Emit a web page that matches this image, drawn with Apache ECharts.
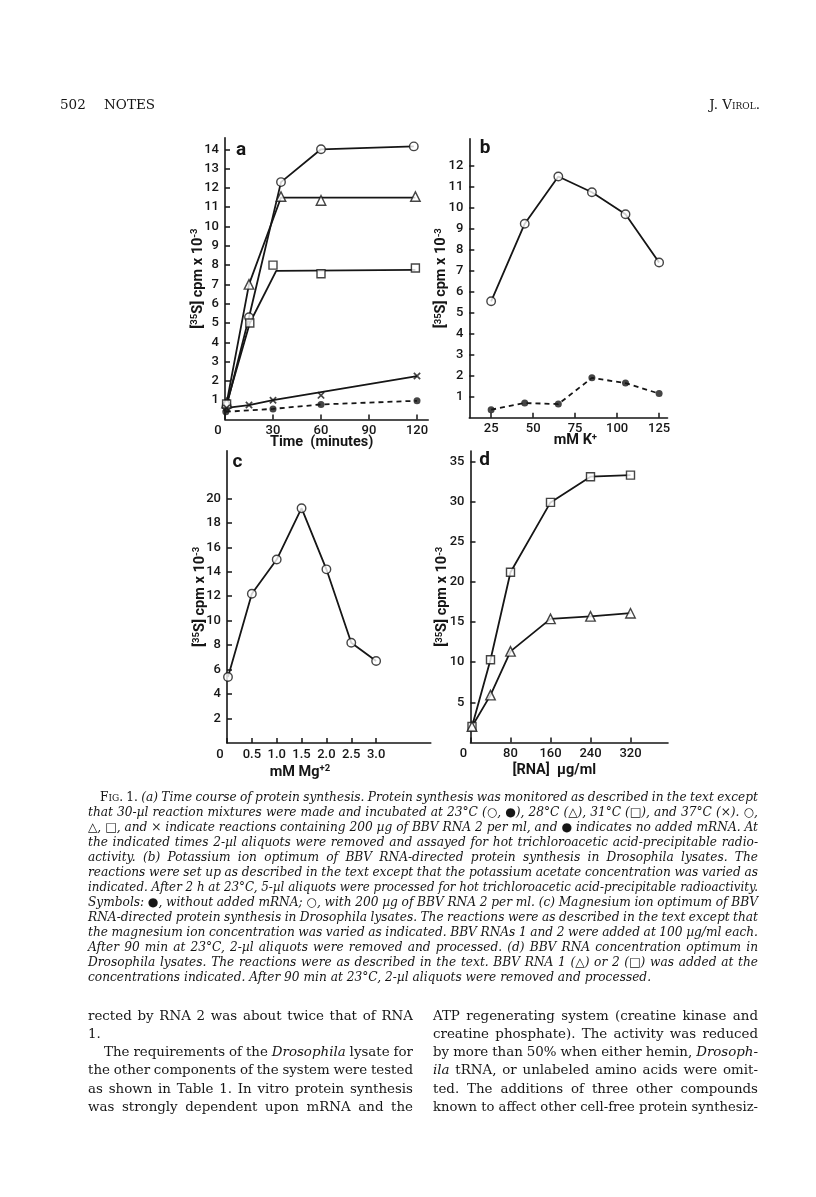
<!DOCTYPE html>
<html><head><meta charset="utf-8">
<script src="https://cdn.jsdelivr.net/npm/echarts@6/dist/echarts.min.js"></script>
<style>
html,body{margin:0;padding:0;background:#fff;}
#page{position:relative;width:816px;height:1197px;overflow:hidden;background:#fff;}
#chart{position:absolute;left:0;top:0;width:816px;height:1197px;}
.ln{position:absolute;display:inline-block;white-space:nowrap;font-family:"DejaVu Serif","Liberation Serif",serif;color:#161616;transform-origin:0 50%;}
.cap{font-size:12.2px;font-style:italic;line-height:15px;}
.body{font-size:13.4px;line-height:18px;}
.hdr{font-size:13.5px;line-height:18px;}
.sc{font-variant:small-caps;}
.up{font-style:normal;}
</style></head>
<body><div id="page"><div id="chart"></div><div id="txt"></div></div>
<script>
// ---------------- DATA ----------------
// Panel a: time course (minutes vs cpm x 10^-3)
const timeTicks = [0, 30, 60, 90, 120];
const aCpmTicks = [1,2,3,4,5,6,7,8,9,10,11,12,13,14];
const a23Time = [1, 15, 35, 60, 118];          // open circles, 23 C
const a23Cpm  = [0.7, 5.3, 12.3, 14.0, 14.15];
const a28Time = [1, 15, 35, 60, 119];          // triangles, 28 C
const a28Cpm  = [0.85, 7.0, 11.55, 11.35, 11.55];
const a28LineTime = [1, 15, 35, 119];
const a28LineCpm  = [0.85, 7.0, 11.5, 11.5];
const a31Time = [1, 15.5, 30, 60, 119];        // squares, 31 C
const a31Cpm  = [0.8, 5.0, 8.0, 7.55, 7.85];
const a31LineTime = [1, 15.5, 32, 119];
const a31LineCpm  = [0.8, 5.0, 7.7, 7.75];
const a37Time = [1, 15, 30, 60, 120];          // crosses, 37 C
const a37Cpm  = [0.6, 0.75, 1.0, 1.25, 2.25];
const a37LineTime = [1, 15, 30, 120];
const a37LineCpm  = [0.6, 0.75, 1.0, 2.25];
const a23NoRnaTime = [0.5, 30, 60, 120];       // filled circles, no mRNA
const a23NoRnaCpm  = [0.4, 0.55, 0.78, 0.97];

// Panel b: potassium optimum (mM K+)
const kTicks = [25, 50, 75, 100, 125];
const bCpmTicks = [1,2,3,4,5,6,7,8,9,10,11,12];
const kConc = [25, 45, 65, 85, 105, 125];
const bWithRna = [5.55, 9.25, 11.5, 10.75, 9.7, 7.4];
const bNoRna   = [0.38, 0.7, 0.65, 1.9, 1.65, 1.15];

// Panel c: magnesium optimum (mM Mg+2)
const mgTicks = [0, 0.5, 1.0, 1.5, 2.0, 2.5, 3.0];
const cCpmTicks = [2,4,6,8,10,12,14,16,18,20];
const mgConc = [0.02, 0.5, 1.0, 1.5, 2.0, 2.5, 3.0];
const cCpm   = [5.4, 12.2, 15.0, 19.2, 14.2, 8.2, 6.7];

// Panel d: RNA concentration optimum (ug/ml)
const rnaTicks = [0, 80, 160, 240, 320];
const dCpmTicks = [5,10,15,20,25,30,35];
const rnaConc = [3, 40, 80, 160, 240, 320];
const dRna2 = [2.0, 10.3, 21.2, 29.9, 33.1, 33.3];   // squares
const dRna1 = [2.0, 5.9, 11.35, 15.4, 15.7, 16.1];   // triangles

const panelLetters = ['a', 'b', 'c', 'd'];
const yAxisTitle = '[{sup|35}S] cpm x 10{sup|-3}';
const xAxisTitles = ['Time  (minutes)', 'mM K{sup|+}', 'mM Mg{sup|+2}', '[RNA]  \u00b5g/ml'];

// ---------------- CHART ----------------
const C = '#161616';
const FONT = 'Roboto, "DejaVu Sans", sans-serif';
const zip = (xs, ys) => xs.map((x, i) => [x, ys[i]]);
const supRich = {sup:{fontSize:9.5, fontWeight:'bold', fontFamily:FONT, color:C, verticalAlign:'top', lineHeight:9}};
const lblStyle = {color:C, fontFamily:FONT, fontSize:13, fontWeight:500};

function mkX(gi, min, max, ticks, fmt, name, pad, gap) {
  return {type:'value', gridIndex:gi, min:min, max:max,
    axisLine:{show:true, onZero:false, lineStyle:{color:C, width:1.6}},
    axisTick:{show:true, inside:true, length:5, customValues:ticks, lineStyle:{color:C, width:1.5}},
    axisLabel:Object.assign({show:true, customValues:ticks, formatter:fmt, margin:5,
      rich:{z:Object.assign({padding:[0,14,0,0]}, lblStyle)}}, lblStyle),
    splitLine:{show:false},
    name:name, nameLocation:'middle', nameGap:gap, nameMoveOverlap:false,
    nameTextStyle:{color:C, fontFamily:FONT, fontSize:14.5, fontWeight:'bold', padding:pad, lineHeight:16, rich:supRich}
  };
}
function mkY(gi, min, max, ticks, gap) {
  return {type:'value', gridIndex:gi, min:min, max:max,
    axisLine:{show:true, onZero:false, lineStyle:{color:C, width:1.6}},
    axisTick:{show:true, inside:true, length:5, customValues:ticks, lineStyle:{color:C, width:1.5}},
    axisLabel:Object.assign({show:true, customValues:ticks, margin:6}, lblStyle),
    splitLine:{show:false},
    name:yAxisTitle, nameLocation:'middle', nameGap:gap, nameRotate:90, nameMoveOverlap:false,
    nameTextStyle:{color:C, fontFamily:FONT, fontSize:14.5, fontWeight:'bold', lineHeight:16, rich:supRich}
  };
}
const zeroFmt = v => v === 0 ? '{z|0}' : String(v);
const mgFmt = v => v === 0 ? '{z|0}' : v.toFixed(1);

const crossPath = 'path://M0,1.6L1.6,0L5,3.4L8.4,0L10,1.6L6.6,5L10,8.4L8.4,10L5,6.6L1.6,10L0,8.4L3.4,5Z';
const hollow = {color:'#fff', borderColor:C, borderWidth:1.4};
function line(gi, data, dashed) {
  return {type:'line', xAxisIndex:gi, yAxisIndex:gi, data:data, showSymbol:false, symbol:'none', z:2,
    lineStyle:{color:C, width:1.8, type: dashed ? [5,4] : 'solid'}, silent:true};
}
function marks(gi, data, symbol, size, style) {
  return {type:'scatter', xAxisIndex:gi, yAxisIndex:gi, data:data, symbol:symbol, symbolSize:size, z:3,
    itemStyle:style, silent:true};
}
const filled = {color:C, borderColor:C, borderWidth:0};

const option = {
  animation:false,
  backgroundColor:'#fff',
  grid:[
    {left:225, top:137.7, width:203.2, height:281.8},
    {left:469.3, top:138.8, width:198.2, height:278.9},
    {left:227, top:450.7, width:203.8, height:292.3},
    {left:470.5, top:451, width:197.5, height:291.5}
  ],
  xAxis:[
    mkX(0, 0, 127, timeTicks, zeroFmt, xAxisTitles[0], [0,10,0,0], 15),
    mkX(1, 12, 130, kTicks, v => String(v), xAxisTitles[1], [0,0,0,14], 15),
    mkX(2, 0, 4.1, mgTicks, mgFmt, xAxisTitles[2], [0,58,0,0], 21),
    mkX(3, 0, 395, rnaTicks, zeroFmt, xAxisTitles[3], [0,30,0,0], 20)
  ],
  yAxis:[
    mkY(0, 0, 14.6, aCpmTicks, 19),
    mkY(1, 0, 13.3, bCpmTicks, 20),
    mkY(2, 0, 23.9, cCpmTicks, 19),
    mkY(3, 0, 36.3, dCpmTicks, 20)
  ],
  graphic:[
    {type:'text', x:241, y:150, style:{text:panelLetters[0], fill:C, font:'bold 19px ' + FONT, align:'center', verticalAlign:'middle'}},
    {type:'text', x:485, y:148, style:{text:panelLetters[1], fill:C, font:'bold 19px ' + FONT, align:'center', verticalAlign:'middle'}},
    {type:'text', x:237.5, y:462, style:{text:panelLetters[2], fill:C, font:'bold 19px ' + FONT, align:'center', verticalAlign:'middle'}},
    {type:'text', x:484.5, y:460, style:{text:panelLetters[3], fill:C, font:'bold 19px ' + FONT, align:'center', verticalAlign:'middle'}}
  ],
  series:[
    // panel a
    line(0, zip(a23Time, a23Cpm)),
    line(0, zip(a28LineTime, a28LineCpm)),
    line(0, zip(a31LineTime, a31LineCpm)),
    line(0, zip(a37LineTime, a37LineCpm)),
    line(0, zip(a23NoRnaTime, a23NoRnaCpm), true),
    marks(0, zip(a23Time, a23Cpm), 'circle', 8.5, hollow),
    marks(0, zip(a28Time, a28Cpm), 'triangle', 9.5, hollow),
    marks(0, zip(a31Time, a31Cpm), 'rect', 8, hollow),
    marks(0, zip(a37Time, a37Cpm), crossPath, 7.5, filled),
    marks(0, zip(a23NoRnaTime, a23NoRnaCpm), 'circle', 7, filled),
    // panel b
    line(1, zip(kConc, bWithRna)),
    line(1, zip(kConc, bNoRna), true),
    marks(1, zip(kConc, bWithRna), 'circle', 8.5, hollow),
    marks(1, zip(kConc, bNoRna), 'circle', 7, filled),
    // panel c
    line(2, zip(mgConc, cCpm)),
    marks(2, zip(mgConc, cCpm), 'circle', 8.5, hollow),
    // panel d
    line(3, zip(rnaConc, dRna2)),
    line(3, zip(rnaConc, dRna1)),
    marks(3, zip(rnaConc, dRna2), 'rect', 8, hollow),
    marks(3, zip(rnaConc, dRna1), 'triangle', 9.5, hollow)
  ]
};
const chart = echarts.init(document.getElementById('chart'));
chart.setOption(option);

// ---------------- PAGE TEXT ----------------
const capLines = [
  '<span class="up">F<span class="sc">ig</span>. 1.</span> (a) Time course of protein synthesis. Protein synthesis was monitored as described in the text except',
  'that 30-\u00b5l reaction mixtures were made and incubated at 23\u00b0C (\u25cb, \u25cf), 28\u00b0C (\u25b3), 31\u00b0C (\u25a1), and 37\u00b0C (\u00d7). \u25cb,',
  '\u25b3, \u25a1, and \u00d7 indicate reactions containing 200 \u00b5g of BBV RNA 2 per ml, and \u25cf indicates no added mRNA. At',
  'the indicated times 2-\u00b5l aliquots were removed and assayed for hot trichloroacetic acid-precipitable radio-',
  'activity. (b) Potassium ion optimum of BBV RNA-directed protein synthesis in Drosophila lysates. The',
  'reactions were set up as described in the text except that the potassium acetate concentration was varied as',
  'indicated. After 2 h at 23\u00b0C, 5-\u00b5l aliquots were processed for hot trichloroacetic acid-precipitable radioactivity.',
  'Symbols: \u25cf, without added mRNA; \u25cb, with 200 \u00b5g of BBV RNA 2 per ml. (c) Magnesium ion optimum of BBV',
  'RNA-directed protein synthesis in Drosophila lysates. The reactions were as described in the text except that',
  'the magnesium ion concentration was varied as indicated. BBV RNAs 1 and 2 were added at 100 \u00b5g/ml each.',
  'After 90 min at 23\u00b0C, 2-\u00b5l aliquots were removed and processed. (d) BBV RNA concentration optimum in',
  'Drosophila lysates. The reactions were as described in the text. BBV RNA 1 (\u25b3) or 2 (\u25a1) was added at the',
  'concentrations indicated. After 90 min at 23\u00b0C, 2-\u00b5l aliquots were removed and processed.'
];
const leftCol = [
  'rected by RNA 2 was about twice that of RNA',
  '1.',
  'The requirements of the <i>Drosophila</i> lysate for',
  'the other components of the system were tested',
  'as shown in Table 1. In vitro protein synthesis',
  'was strongly dependent upon mRNA and the'
];
const rightCol = [
  'ATP regenerating system (creatine kinase and',
  'creatine phosphate). The activity was reduced',
  'by more than 50% when either hemin, <i>Drosoph-</i>',
  '<i>ila</i> tRNA, or unlabeled amino acids were omit-',
  'ted. The additions of three other compounds',
  'known to affect other cell-free protein synthesiz-'
];
const bodyY = [1016, 1034, 1052, 1070, 1088.5, 1107];

const txt = document.getElementById('txt');
// mode: 'j' justify to width, 'l' left, 'r' right-aligned ending at left+width
function put(html, cls, left, cy, width, mode, lh) {
  const el = document.createElement('span');
  el.className = 'ln ' + cls;
  el.innerHTML = html;
  el.style.left = left + 'px';
  el.style.top = (cy - lh / 2) + 'px';
  txt.appendChild(el);
  const nat = el.getBoundingClientRect().width;
  if (mode === 'j') {
    const spaces = (el.textContent.match(/ /g) || []).length;
    const ws = spaces ? (width - nat) / spaces : 0;
    if (ws < -1) {
      el.style.transform = 'scaleX(' + (width / nat) + ')';
    } else if (spaces) {
      el.style.wordSpacing = ws + 'px';
    }
  } else if (mode === 'r') {
    el.style.left = (left + width - nat) + 'px';
  } else if (width && nat > width) {
    el.style.transform = 'scaleX(' + (width / nat) + ')';
  }
}
capLines.forEach((h, i) => {
  const left = i === 0 ? 100 : 88;
  put(h, 'cap', left, 797 + 15 * i, 758 - left, i !== capLines.length - 1 ? 'j' : 'l', 15);
});
leftCol.forEach((h, i) => {
  const left = i === 2 ? 104 : 88;
  put(h, 'body', left, bodyY[i], 413 - left, i === 1 ? 'l' : 'j', 18);
});
rightCol.forEach((h, i) => put(h, 'body', 433, bodyY[i], 325, 'j', 18));
put('502', 'hdr', 60, 104, 0, 'l', 18);
put('NOTES', 'hdr', 104, 104, 0, 'l', 18);
put('J. V<span class="sc">irol</span>.', 'hdr', 700, 104, 60, 'r', 18);
</script>
</body></html>
